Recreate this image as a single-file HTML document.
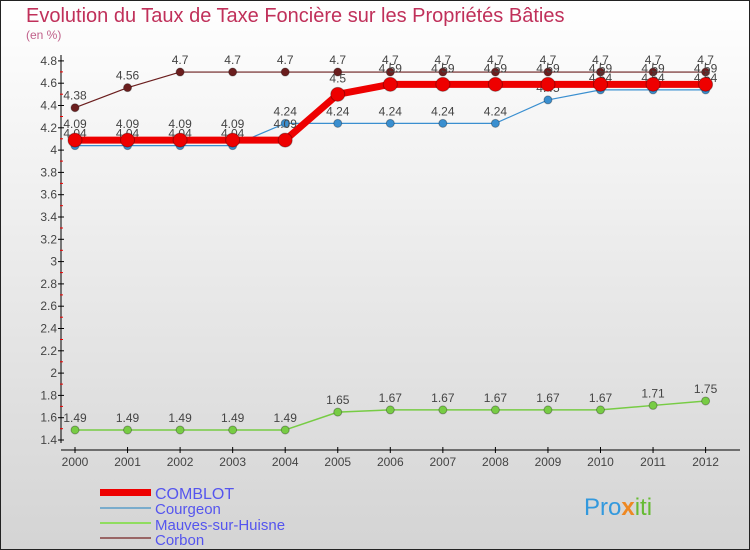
<!DOCTYPE html>
<html><head><meta charset="utf-8"><style>
body{margin:0}
#c{position:relative;width:750px;height:550px;overflow:hidden;font-family:"Liberation Sans","DejaVu Sans",sans-serif}
</style></head><body>
<div id="c">
<svg id="s" width="750" height="550" xmlns="http://www.w3.org/2000/svg">
<defs><linearGradient id="bg" x1="0" y1="0" x2="0" y2="1"><stop offset="0" stop-color="#ffffff"/><stop offset="1" stop-color="#d4d4d4"/></linearGradient></defs>
<rect x="0.5" y="0.5" width="749" height="549" fill="url(#bg)" stroke="#222"/>
<text x="26" y="22" font-size="20" fill="#c0305a">Evolution du Taux de Taxe Foncière sur les Propriétés Bâties</text>
<text x="26" y="39" font-size="12" fill="#c0608a">(en %)</text>
<g id="axes"></g><g id="series"></g>
<g>
<rect x="100" y="489" width="51" height="7" fill="#e00"/>
<text x="155" y="499" font-size="16" fill="#5555ee">COMBLOT</text>
<line x1="100" y1="508" x2="151" y2="508" stroke="#7aaccc" stroke-width="2"/>
<text x="155" y="514" font-size="15" fill="#5555ee">Courgeon</text>
<line x1="100" y1="523" x2="151" y2="523" stroke="#90dd60" stroke-width="2"/>
<text x="155" y="530" font-size="15" fill="#5555ee">Mauves-sur-Huisne</text>
<line x1="100" y1="538" x2="151" y2="538" stroke="#996666" stroke-width="2"/>
<text x="155" y="545" font-size="15" fill="#5555ee">Corbon</text>
</g>
<text x="584" y="515" font-size="24" fill="#3399dd">Pro<tspan fill="#ee8822" font-weight="bold">x</tspan><tspan fill="#66bb33">iti</tspan></text>
</svg>
</div>
<script>
const years=[2000,2001,2002,2003,2004,2005,2006,2007,2008,2009,2010,2011,2012];
const yTicks=[1.4,1.6,1.8,2,2.2,2.4,2.6,2.8,3,3.2,3.4,3.6,3.8,4,4.2,4.4,4.6,4.8];
const comblot=[4.09,4.09,4.09,4.09,4.09,4.5,4.59,4.59,4.59,4.59,4.59,4.59,4.59];
const courgeon=[4.04,4.04,4.04,4.04,4.24,4.24,4.24,4.24,4.24,4.45,4.54,4.54,4.54];
const mauves=[1.49,1.49,1.49,1.49,1.49,1.65,1.67,1.67,1.67,1.67,1.67,1.71,1.75];
const corbon=[4.38,4.56,4.7,4.7,4.7,4.7,4.7,4.7,4.7,4.7,4.7,4.7,4.7];
const NS="http://www.w3.org/2000/svg";
function X(i){return 75+i*52.55;}
function Y(v){return 440-(v-1.4)*111.5;}
function mk(p,t,a){const e=document.createElementNS(NS,t);for(const k in a)e.setAttribute(k,a[k]);p.appendChild(e);return e;}
const ax=document.getElementById('axes'),sg=document.getElementById('series');
const yl=mk(ax,'line',{x1:61,y1:55,x2:61,y2:443,stroke:'#000'});


const xl=mk(ax,'line',{x1:61,y1:450,x2:740,y2:450,stroke:'#000'});


yTicks.forEach((v,k)=>{const y=Y(v);mk(ax,'line',{x1:58,y1:y,x2:64,y2:y,stroke:'#000'});
if(k>0)mk(ax,'line',{x1:60,y1:y+11,x2:63,y2:y+11,stroke:'#e00'});
const t=mk(ax,'text',{x:57,y:y+4,'font-size':12,'text-anchor':'end',fill:'#444'});t.textContent=String(v);

});
years.forEach((yr,i)=>{mk(ax,'line',{x1:X(i),y1:447,x2:X(i),y2:453,stroke:'#000'});
const t=mk(ax,'text',{x:X(i),y:466,'font-size':12,'text-anchor':'middle',fill:'#444'});t.textContent=yr;

});
function series(d,col,w,r,name,lab){
const g=mk(sg,'g',{});


mk(g,'polyline',{points:d.map((v,i)=>X(i)+','+Y(v)).join(' '),fill:'none',stroke:col,'stroke-width':w,'stroke-linejoin':'round'});
d.forEach((v,i)=>{const c=mk(g,'circle',{cx:X(i),cy:Y(v),r:r,fill:col,stroke:'rgba(0,0,0,0.3)'});


const t=mk(g,'text',{x:X(i),y:Y(v)-8+lab,'font-size':12,'text-anchor':'middle',fill:'#444'});t.textContent=String(v);});}
series(corbon,'#6b1e1e',1.2,4,'series-corbon',0);
series(courgeon,'#3a8fd0',1.2,4,'series-courgeon',0);
series(comblot,'#ee0000',7,7,'series-comblot',-4);
series(mauves,'#77cc44',1.5,4,'series-mauves',0);
</script>
</body></html>
